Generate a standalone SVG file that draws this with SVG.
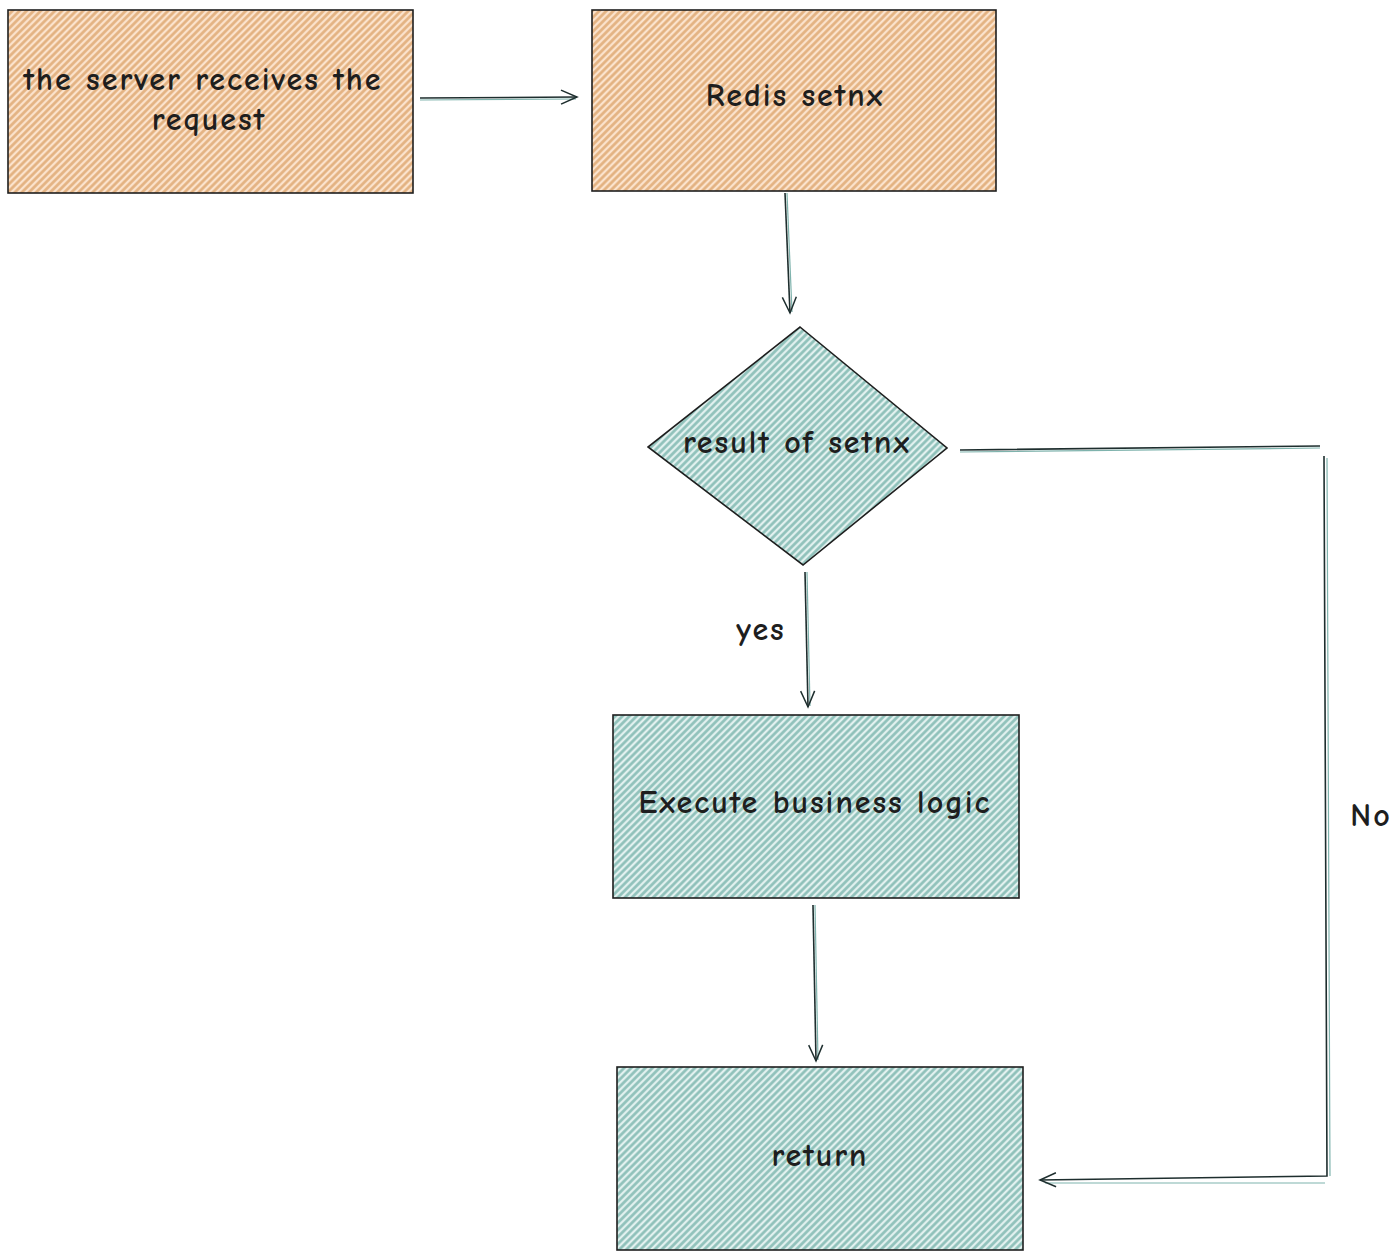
<svg xmlns="http://www.w3.org/2000/svg" width="1400" height="1259" viewBox="0 0 1400 1259">
<style>
.box{stroke:#1e1e1e;stroke-width:1.6;}
.orange{fill:url(#hatchO);}
.teal{fill:url(#hatchT);}
.lbl{font-family:"Comic Neue","Liberation Sans",sans-serif;font-size:32px;font-weight:bold;letter-spacing:2px;fill:#1e1e1e;text-anchor:middle;dominant-baseline:middle;}
.conn{fill:none;stroke:#1e2e2e;stroke-width:1.6;}
.shadow{fill:none;stroke:#7fb3ad;stroke-width:1.2;}
</style>
<defs>
<pattern id="hatchO" patternUnits="userSpaceOnUse" width="5" height="5" patternTransform="rotate(-45)">
<rect width="5" height="5" fill="#fbe3cd"/>
<line x1="0" y1="1.5" x2="5" y2="1.5" stroke="#e2b07e" stroke-width="2.6"/>
</pattern>
<pattern id="hatchT" patternUnits="userSpaceOnUse" width="5" height="5" patternTransform="rotate(-45)">
<rect width="5" height="5" fill="#e2f1ef"/>
<line x1="0" y1="1.5" x2="5" y2="1.5" stroke="#8cbfb8" stroke-width="2.6"/>
</pattern>
<marker id="arr" viewBox="0 0 20 20" refX="18" refY="10" markerWidth="20" markerHeight="20" markerUnits="userSpaceOnUse" orient="auto">
<path d="M2,3 L18,10 L2,17" fill="none" stroke="#1e2e2e" stroke-width="1.5"/>
</marker>
</defs>

<g id="connectors">
<path class="shadow" d="M420,100 L576,99"/>
<path class="conn" d="M420,98 L577,97" marker-end="url(#arr)"/>
<path class="shadow" d="M787,193 L792,312"/>
<path class="conn" d="M785,193 L790,313" marker-end="url(#arr)"/>
<path class="shadow" d="M807,572 L810,706"/>
<path class="conn" d="M805,572 L808,707" marker-end="url(#arr)"/>
<path class="shadow" d="M815,905 L818,1060"/>
<path class="conn" d="M813,905 L816,1061" marker-end="url(#arr)"/>
<path class="shadow" d="M960,452 L1320,448 M1327,458 L1330,1176 M1325,1183 L1045,1183"/>
<path class="conn" d="M960,450 L1320,446 M1324,456 L1327,1176 L1040,1180" marker-end="url(#arr)"/>
<text class="lbl" x="761" y="632">yes</text>
<text class="lbl" x="1371" y="818">No</text>
</g>

<g id="node-request">
<rect class="box orange" x="8" y="10" width="405" height="183"/>
<text class="lbl" x="203" y="82">the server receives the</text>
<text class="lbl" x="209" y="122">request</text>
</g>

<g id="node-setnx">
<rect class="box orange" x="592" y="10" width="404" height="181"/>
<text class="lbl" x="795" y="98">Redis setnx</text>
</g>

<g id="node-result">
<path class="box teal" d="M800,327 L947,448 L803,565 L648,447 Z"/>
<text class="lbl" x="797" y="445">result of setnx</text>
</g>

<g id="node-execute">
<rect class="box teal" x="613" y="715" width="406" height="183"/>
<text class="lbl" x="815" y="805">Execute business logic</text>
</g>

<g id="node-return">
<rect class="box teal" x="617" y="1067" width="406" height="183"/>
<text class="lbl" x="820" y="1158">return</text>
</g>
</svg>
